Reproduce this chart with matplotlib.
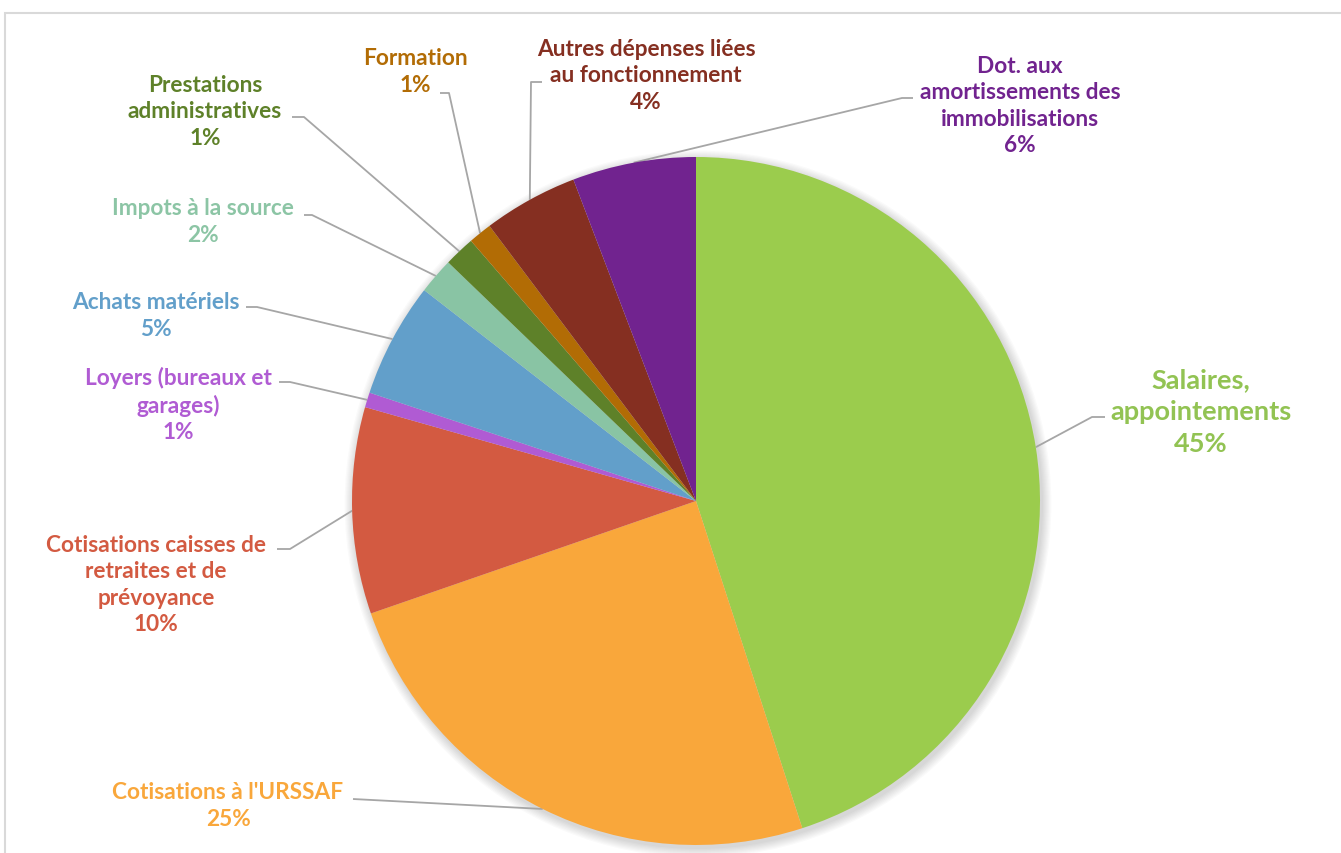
import numpy as np
import matplotlib
matplotlib.use("Agg")
import matplotlib.pyplot as plt
from matplotlib.patches import Circle, Rectangle

# --- DATA (clockwise from top) ---
labels = [
    "Salaires,\nappointements",
    "Cotisations à l'URSSAF",
    "Cotisations caisses de\nretraites et de\nprévoyance",
    "Loyers (bureaux et\ngarages)",
    "Achats matériels",
    "Impots à la source",
    "Prestations\nadministratives",
    "Formation",
    "Autres dépenses liées\nau fonctionnement",
    "Dot. aux\namortissements des\nimmobilisations",
]
values = [45.0, 24.7, 9.7, 0.7, 5.4, 1.7, 1.45, 1.1, 4.45, 5.8]
colors = ["#9BCC4D", "#F9A73B", "#D35A41", "#B05BD3", "#629FCA",
          "#89C4A4", "#5E8129", "#B26C05", "#852F21", "#71238F"]
text_colors = ["#92C353", "#F9A73B", "#D35A41", "#B05BD3", "#629FCA",
               "#8CC5A5", "#5E8129", "#B26C05", "#852F21", "#71238F"]

# --- LAYOUT (pixel coords, y from top) ---
W, H = 1341, 854
cx, cy, R = 696, 502, 344
# label block centres
label_pos = [(1201, 412), (228, 806), (156, 585), (178, 405), (156, 316),
             (203, 222), (205, 112), (415, 72), (646, 76), (1020, 106)]
# leader lines: elbow point and end point near the text
leader = [((1092, 418), (1105, 418)),
          ((353, 800), (353, 800)),
          ((290, 550), (277, 550)),
          ((290, 383), (279, 383)),
          ((257, 308), (246, 308)),
          ((312, 216), (304, 216)),
          ((304, 118), (292, 118)),
          ((449, 94), (440, 94)),
          ((531, 83), (542, 83)),
          ((902, 99), (913, 99))]
font_sizes = [19.5, 16.3, 16.3, 16.3, 16.3, 16.3, 16.3, 16.3, 16.3, 16.3]
line_sp = [1.4, 1.32, 1.32, 1.32, 1.32, 1.32, 1.32, 1.32, 1.32, 1.32]


def fy(y):
    return H - y


plt.rcParams['font.family'] = ['Lato', 'DejaVu Sans']

fig = plt.figure(figsize=(W / 100, H / 100), dpi=100)
ax = fig.add_axes([0, 0, 1, 1])

# soft shadow behind the pie
for k in range(8):
    ax.add_patch(Circle((cx + 2, fy(cy) - 3), R + 1 + k * 1.2,
                        facecolor="#000000", alpha=0.018, edgecolor="none", zorder=1))

wedges, _ = ax.pie(values, colors=colors, startangle=90, counterclock=False,
                   center=(cx, fy(cy)), radius=R, frame=True,
                   wedgeprops=dict(linewidth=0, zorder=2))
for w in wedges:
    w.set_zorder(2)

# labels and leader lines
for i, w in enumerate(wedges):
    mid = np.deg2rad((w.theta1 + w.theta2) / 2)
    ex = cx + R * np.cos(mid)
    ey = fy(cy) + R * np.sin(mid)
    (bx, by), (tx, ty) = leader[i]
    ax.plot([ex, bx, tx], [ey, fy(by), fy(ty)], color="#A6A6A6", lw=1.3,
            zorder=1.5, solid_capstyle="butt")
    lx, ly = label_pos[i]
    ax.text(lx, fy(ly), f"{labels[i]}\n{round(values[i])}%", ha="center", va="center",
            multialignment="center", fontsize=font_sizes[i], fontweight="bold",
            color=text_colors[i], linespacing=line_sp[i], zorder=3)

# chart border
ax.add_patch(Rectangle((5, -10), W + 20, fy(14) + 10, fill=False,
                       edgecolor="#D9D9D9", lw=1.5, zorder=0))

ax.set_xlim(0, W)
ax.set_ylim(0, H)
ax.set_aspect("equal")
ax.axis("off")

fig.savefig("out.png", dpi=100, facecolor="white")
plt.close(fig)
